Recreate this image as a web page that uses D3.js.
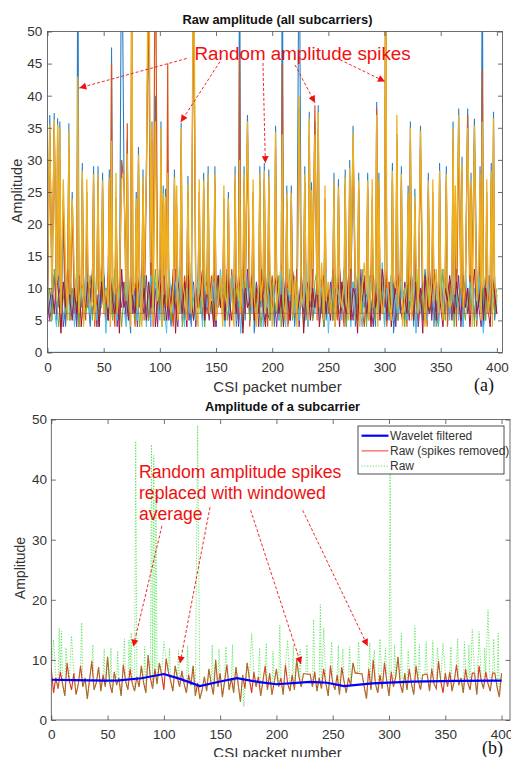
<!DOCTYPE html>
<html><head><meta charset="utf-8">
<script src="https://cdn.jsdelivr.net/npm/d3@7"></script>
<style>body{margin:0;background:#fff}svg{display:block}</style>
</head><body>
<script>
// ---------------- DATA ----------------
const xTickValues = [0,50,100,150,200,250,300,350,400];
const topYTickValues = [0,5,10,15,20,25,30,35,40,45,50];
const botYTickValues = [0,10,20,30,40,50];

// (a) band of subcarrier amplitudes, one value every 2 packets (0..400)
const bandBlue = [
8,11,6,9,5,12,7,10,4,9,6,11,8,5,10,7,12,6,9,4,
11,7,10,5,8,13,6,9,4,10,7,12,5,8,11,6,9,3,10,7,
12,8,5,9,6,11,4,10,7,13,6,8,5,11,9,4,10,7,12,6,
9,5,11,8,4,10,6,12,7,9,5,13,8,6,10,4,11,7,9,5,
12,6,10,8,4,11,7,9,5,12,6,10,3,8,11,7,13,5,9,6,
10,4,12,8,6,11,5,9,7,13,4,10,6,8,12,5,9,7,11,4,
8,12,6,10,5,9,7,13,4,11,8,6,10,5,12,7,9,4,11,6,
13,7,9,5,10,8,4,12,6,9,7,11,5,10,3,8,12,6,9,5,
11,7,10,4,12,6,8,5,13,9,6,10,4,11,7,9,5,12,8,6,
10,5,9,7,12,4,11,6,8,10,5,13,7,9,4,11,6,10,8,5,9];
const bandOrange = [
6,9,12,5,10,7,4,11,8,13,5,9,6,12,4,10,8,5,11,7,
9,4,12,6,10,8,5,13,7,9,4,11,6,10,5,12,8,6,9,4,
10,7,13,5,8,11,6,4,12,9,7,10,5,13,6,8,4,11,7,10,
5,12,8,6,11,4,9,7,13,5,10,6,8,12,4,9,7,11,5,8,
10,4,13,7,9,5,12,6,10,8,4,11,7,9,6,13,5,10,4,8,
12,7,9,5,11,6,10,4,8,12,7,5,11,9,6,13,4,10,7,9,
5,11,8,4,12,6,10,7,9,5,13,8,4,11,6,10,7,12,5,9,
7,4,11,8,13,6,9,5,10,7,12,4,9,6,11,8,5,13,7,10,
4,9,12,6,8,5,11,7,10,4,13,6,9,8,5,12,7,10,4,11,
6,12,4,10,8,5,9,13,6,11,7,4,10,8,12,5,9,6,11,7,8];
const bandPurple = [
10,5,8,12,6,9,11,4,7,10,13,6,8,4,11,9,5,12,7,10,
6,9,4,11,7,12,8,5,10,6,13,4,9,7,11,5,8,12,6,10,
4,11,8,6,12,5,9,7,10,4,13,8,6,11,5,9,12,7,4,10,
8,6,12,5,9,11,4,10,7,13,6,8,5,11,9,4,12,7,10,6,
9,5,11,7,12,4,8,10,6,13,5,9,7,11,4,10,8,12,6,5,
11,8,4,10,7,12,6,9,5,11,8,13,4,10,6,9,7,12,5,8,
10,6,12,4,9,8,11,5,10,7,13,6,9,4,12,8,5,11,7,10,
6,12,5,9,7,4,11,8,10,6,13,5,9,7,12,4,10,8,6,11,
9,5,12,7,10,4,8,11,6,9,13,5,10,7,4,12,8,6,11,9,
5,10,7,12,4,9,11,6,8,13,5,10,7,4,11,9,6,12,8,10,6];
const bandGreen = [
7,10,5,13,8,4,11,9,6,12,5,10,7,13,4,9,11,6,8,12,
5,10,7,4,12,9,6,11,8,5,13,7,10,4,9,12,6,8,11,5,
10,4,9,12,7,5,11,8,13,6,10,4,9,7,12,5,11,8,6,13,
4,10,7,9,12,5,8,11,6,10,4,13,7,9,5,12,8,10,6,11,
5,9,12,6,10,7,13,4,9,11,5,8,12,6,10,4,9,7,13,5,
11,8,6,12,4,10,7,9,13,5,8,11,6,10,4,12,7,9,5,11,
13,6,9,4,11,7,10,5,12,8,6,9,13,4,10,7,11,5,8,12,
6,10,4,12,7,9,5,13,8,11,4,10,6,12,7,9,5,11,8,4,
12,6,10,8,4,13,7,9,5,11,6,10,12,4,9,7,13,5,10,8,
11,4,9,6,12,8,5,10,7,13,4,11,9,6,10,5,12,7,9,6,10];
const bandLightBlue = [
9,6,11,7,4,10,14,5,8,11,6,9,4,12,7,10,5,13,8,6,
10,12,5,9,7,11,3,10,6,12,8,5,9,11,7,4,12,6,10,8,
5,13,7,10,4,9,12,6,11,8,5,10,7,3,13,9,6,11,8,12,
7,4,10,6,14,8,5,11,9,4,12,7,10,6,11,5,9,13,8,4,
10,6,12,8,5,11,3,9,13,7,10,6,12,5,8,11,4,10,7,12,
6,9,11,5,13,7,4,10,8,12,6,9,5,11,7,14,4,9,10,6,
12,5,10,7,13,3,9,11,6,10,8,5,12,7,9,4,11,6,13,8,
4,10,7,12,5,9,11,6,8,14,4,10,7,12,5,9,6,11,8,10,
5,11,7,13,3,10,6,9,12,5,8,11,7,10,4,13,6,9,11,5,
12,7,10,5,9,4,13,8,11,6,10,5,12,7,3,9,11,8,6,12,7];
const bandDarkRed = [
5,8,10,6,12,9,3,11,7,13,8,5,10,6,12,4,9,7,11,8,
13,6,9,4,11,7,10,5,12,8,6,10,3,13,7,9,5,11,8,6,
12,9,6,10,5,11,7,13,4,8,12,6,9,5,10,7,13,3,11,9,
6,11,4,12,8,5,10,7,9,13,5,11,6,8,4,10,12,7,9,5,
13,8,5,10,6,12,9,3,11,7,8,12,5,10,6,13,7,4,11,9,
7,10,12,6,9,4,11,8,5,13,10,6,8,12,3,9,11,5,10,7,
11,4,8,12,6,10,5,13,7,9,4,11,8,6,12,5,10,9,3,13,
8,11,6,9,4,12,7,10,5,13,9,6,11,4,8,10,12,7,5,9,
6,13,9,5,11,7,10,3,12,8,6,9,13,5,11,7,4,10,8,12,
9,6,11,8,5,12,7,10,4,9,13,6,8,11,5,10,7,4,12,9,6];
const bandYellow = [
11,7,9,4,8,12,6,10,14,5,9,7,12,8,6,11,4,10,13,7,
8,5,11,9,14,6,10,7,4,11,9,6,12,5,10,8,13,4,9,11,
7,10,4,12,9,6,14,5,10,8,11,4,12,7,9,6,10,13,5,8,
11,9,5,14,6,10,8,4,12,7,11,9,6,10,13,5,8,12,4,9,
7,12,9,4,11,8,6,14,10,5,12,7,9,4,11,8,12,6,10,13,
4,12,7,10,14,8,5,11,9,6,12,4,10,7,9,11,5,8,13,6,
9,7,14,5,8,11,6,10,4,12,9,7,11,8,5,13,6,10,12,4,
10,14,9,5,11,7,12,4,10,6,9,13,8,5,11,10,7,12,4,9,
11,8,5,10,14,6,9,12,4,10,7,11,8,13,6,9,5,12,10,7,
8,9,13,5,10,7,11,6,12,4,9,8,14,5,10,12,6,9,4,11,8];

// (a) random spikes: packet, blue tip, orange, yellow
const spikePackets =   [27,66,75,90,96,130,171,209,224,301,387,
  2,6,9,11,19,57,71,93,101,107,119,178,203,233,238,241,272,293,311,323,332,361,366,374,380,397,
  22,31,41,45,49,55,68,79,81,85,88,103,105,113,125,139,143,149,161,167,175,189,193,197,213,217,229,235,255,259,265,269,277,285,295,307,315,321,327,339,349,355,369,377,385,395,
  14,35,61,115,135,157,183,247,289,343,363,391];
const spikeBlue = [70,70,58,55,40,62,70,70,70,60,70,
  37,37.3,36.5,36,35.7,47.5,33,36,36,30,35.8,37,35.3,37.5,36,38.5,35.3,39,34,36,35.3,36,38,38,36.4,37.5,
  25,29.5,29,29,28,28.5,29,25,32,28.5,28.5,26,25.5,28.5,27.5,28,29,29,25,29,29,29,29.5,28.5,26,26,29,26.5,28,27,28.5,30,28,28,28,29.5,29,26,25.5,28,29.5,29,30.5,28,29,29.5,
  20,21,22,20,22,21,22,20,21,22,20,21];
const spikeOrange = [38,30,66,60,70,58,46,45,38,65,44,
  34,35,33,30,32,45,35.7,33,32,45,33,34,32,34,38.5,35,32,38,33,33,32,33,34,37,33,34,
  22.5,27,26.5,26.5,25.5,26,26.5,22.5,29.5,26,26,23.5,23,26,25,25.5,26.5,26.5,22.5,26.5,26.5,26.5,27,26,23.5,23.5,26.5,24,25.5,24.5,26,27.5,25.5,25.5,25.5,27,26.5,23.5,23,25.5,27,26.5,28,25.5,26.5,27,
  24,25,24,23,25,24,25,24,24,25,23,25];
const spikeYellow = [43,27,70,70,36,70,30,34,40,70,36,
  35.5,36.3,35.5,35,34.5,33,31,35.3,35,28,35,36,34.3,36.5,34,37.5,34.3,37,37,35,34.5,35,37,35,35.4,36.5,
  24,28.3,27.8,27.8,26.8,27.3,27.8,24,30.8,27.3,27.3,24.8,24.3,27.3,26.3,26.8,27.8,27.8,24,27.8,27.8,27.8,28.3,27.3,24.8,24.8,27.8,25.3,26.8,25.8,27.3,28.8,26.8,26.8,26.8,28.3,27.8,24.8,24.3,26.8,28.3,27.8,29.3,26.8,27.8,28.3,
  27,27,28,26,27,26,27,26,27,27,26,27];
const refLevels = [0, 6.1];

// (b) raw with spikes removed, one value every 2 packets (0..400)
const rawCleaned = [
8.5,4.5,7,5.2,8,6,4,9.5,6.5,5,7.8,4.2,6,9,5.5,7,3.5,6.8,9.8,5,
6.2,8.8,4.8,7.5,5.5,10.5,6,4.5,8,5.8,7,4,9.2,6.5,5,8.5,6,4.8,7.2,5.5,
9,6.2,4.5,10.8,7,5.2,8.5,6,9.5,7.5,5,10.2,8,6.5,4.8,9,7,5.5,8.2,6,
4.5,7.5,5.8,9,4,6.2,3.5,5,7.2,4.8,8.5,6,4.2,10,5.5,7.8,3.8,6.5,9.2,5,
7,4.5,8.8,6,3,7.5,5.2,9.5,6.8,4.5,8,5.5,7.2,4,6.5,9,5,7.8,4.2,6.2,
8.5,5.5,7,4.2,9.2,6,4.8,7.5,5,10,7.2,5.5,7.7,7.7,7.6,7.6,5.5,8,4.8,7,
5.2,8.5,6,4,9,6.2,5,7.5,4.2,8.8,6.5,4.5,7,5.8,9.5,7.8,7.8,7.7,7.7,5.5,
3.5,8.5,5,10,6,4.5,7.5,5.2,9.5,6.5,4,8,5.5,7.2,10.5,6,4.5,7.8,5,8.5,
6,4.2,9,6.5,5,7.5,7.6,7.6,4.8,8.5,6,5.2,9.8,6.5,4.5,7.8,5.5,8,4.8,6.5,
9.2,5.8,7,4.5,8.5,6.2,5,7.8,7.8,4.2,9,6.5,5.2,8,6,4.8,7.8,7.8,5.5,3.8,7.8];
// (b) raw spikes (packet, amplitude) that were removed
const rawSpikePackets = [2,7,9,13,18,27,37,47,53,59,65,69,71,75,83,89,91,93,100,105,113,121,130,143,149,155,161,171,178,185,191,197,203,210,215,221,227,233,239,242,249,255,259,265,273,283,287,292,297,301,305,311,317,323,327,333,339,343,348,355,361,367,371,374,380,385,388,393,397];
const rawSpikeValues  = [13.4,15.3,14.8,12,14,16.2,12.5,11.8,12,11.5,13.5,13.3,14.5,46.4,12.2,45.8,44,38,13,12,11.5,12.4,49,12.5,11.8,12.2,12.5,2.2,14.4,12,12.8,11.5,15.8,13.3,12.5,11.8,12.5,16.7,19.2,15.3,13,12.4,11.8,12.2,13,12.8,11.6,13.5,12,41,12.5,14.4,11.5,15.7,12.6,13,13.2,12,12.8,12.2,13.5,13,12.5,15.1,14.7,12,18.3,13.5,14.4];
// (b) wavelet filtered
const waveletPackets = [0,20,50,60,80,100,115,132,150,165,185,200,230,245,260,285,320,360,400];
const waveletValues  = [6.7,6.65,6.55,6.6,6.95,7.65,6.8,5.65,6.4,6.95,6.3,5.95,6.35,6.2,5.65,6.1,6.4,6.5,6.55];

// ---------------- DRAWING ----------------
const W = 511, H = 757;
const FONT = "'Liberation Sans', Arial, Helvetica, sans-serif";
const AXIS_COLOR = "#4a4a4a", TEXT_COLOR = "#333";
const svg = d3.select("body").append("svg").attr("width", W).attr("height", H);
const defs = svg.append("defs");
defs.append("marker").attr("id","ah").attr("viewBox","0 0 10 10").attr("refX",10).attr("refY",5)
  .attr("markerWidth",8).attr("markerHeight",7).attr("markerUnits","userSpaceOnUse").attr("orient","auto")
  .append("path").attr("d","M0,0L10,5L0,10z").attr("fill","#f01010");

const xA = d3.scaleLinear().domain([0,405]).range([47.5,502.5]);
const yA = d3.scaleLinear().domain([0,50]).range([352.5,31.5]);
const xB = d3.scaleLinear().domain([0,407.5]).range([51.3,510]);
const yB = d3.scaleLinear().domain([0,50]).range([720,419.5]);

function clip(id, x, y){
  defs.append("clipPath").attr("id",id).append("rect")
    .attr("x",x.range()[0]).attr("y",y.range()[1])
    .attr("width",x.range()[1]-x.range()[0]).attr("height",y.range()[0]-y.range()[1]);
}
clip("cA", xA, yA); clip("cB", xB, yB);

function axes(x, y, yTicks, xPad, yPad){
  const [x0,x1] = x.range(), [y0,y1] = y.range();
  const style = s => { s.select(".domain").remove(); s.attr("color",AXIS_COLOR).attr("font-family",FONT).attr("font-size",13.5);
    s.selectAll("line").attr("stroke-width",0.8); s.selectAll("text").attr("fill",TEXT_COLOR); };
  svg.append("g").attr("transform",`translate(0,${y0})`).call(d3.axisBottom(x).tickValues(xTickValues).tickSize(-4.5).tickPadding(xPad)).call(style);
  svg.append("g").attr("transform",`translate(0,${y1})`).call(d3.axisTop(x).tickValues(xTickValues).tickSize(-4.5).tickFormat("")).call(style);
  svg.append("g").attr("transform",`translate(${x0},0)`).call(d3.axisLeft(y).tickValues(yTicks).tickSize(-4.5).tickPadding(yPad)).call(style);
  svg.append("g").attr("transform",`translate(${x1},0)`).call(d3.axisRight(y).tickValues(yTicks).tickSize(-4.5).tickFormat("")).call(style);
  svg.append("rect").attr("x",x0).attr("y",y1).attr("width",x1-x0).attr("height",y0-y1)
    .attr("fill","none").attr("stroke",AXIS_COLOR).attr("stroke-width",0.8);
}

// ----- (a) -----
const gA = svg.append("g").attr("clip-path","url(#cA)");
const lineA = d3.line().x(d=>xA(d[0])).y(d=>yA(d[1]));
function bandPts(vals){ return vals.map((v,i)=>[i*2,v]); }
function withSpikes(pts, px, pv){
  const m = new Map(pts.map(p=>[p[0],p[1]]));
  px.forEach((p,i)=>m.set(p,pv[i]));
  return Array.from(m).sort((a,b)=>a[0]-b[0]);
}
const seriesA = [
  {vals: bandBlue, color:"#2a7fc4", spikes: spikeBlue, w:1.1},
  {vals: bandOrange, color:"#D95319", spikes: spikeOrange, w:1.2},
  {vals: bandPurple, color:"#7E2F8E", w:1},
  {vals: bandGreen, color:"#77AC30", w:1},
  {vals: bandLightBlue, color:"#4DBEEE", w:1},
  {vals: bandDarkRed, color:"#A2142F", w:1},
  {vals: bandYellow, color:"#EDB120", spikes: spikeYellow, w:1.3}
];
seriesA.forEach(s=>{
  let pts = bandPts(s.vals);
  if (s.spikes) pts = withSpikes(pts, spikePackets, s.spikes);
  gA.append("path").attr("d", lineA(pts)).attr("fill","none").attr("stroke",s.color).attr("stroke-width",s.w);
});
gA.selectAll("line.ref").data(refLevels).join("line").attr("class","ref")
  .attr("x1",xA(0)).attr("x2",xA(400)).attr("y1",d=>yA(d)).attr("y2",d=>yA(d))
  .attr("stroke",(d,i)=>i===0?"#4DBEEE":"#C0504D").attr("stroke-width",(d,i)=>i===0?1.6:0.8).attr("opacity",(d,i)=>i===0?1:0.8);
axes(xA, yA, topYTickValues, 10, 5.2);

// ----- (b) -----
const gB = svg.append("g").attr("clip-path","url(#cB)");
const lineB = d3.line().x(d=>xB(d[0])).y(d=>yB(d[1]));
const cleanedPts = bandPts(rawCleaned);
const rawPts = withSpikes(cleanedPts, rawSpikePackets, rawSpikeValues);
gB.append("path").attr("d", lineB(cleanedPts)).attr("fill","none").attr("stroke","#e0341c").attr("stroke-width",1.1);
gB.append("path").attr("d", lineB(rawPts)).attr("fill","none").attr("stroke","#33dd33").attr("stroke-width",1)
  .attr("stroke-dasharray","1.2,1.6").attr("opacity",0.75);
gB.append("path").attr("d", lineB(waveletPackets.map((p,i)=>[p,waveletValues[i]]))).attr("fill","none")
  .attr("stroke","#0000ff").attr("stroke-width",2.2);
axes(xB, yB, botYTickValues, 9.5, 4.3);

// ----- texts -----
function txt(x,y,s,size,opt={}){
  const t = svg.append("text").attr("x",x).attr("y",y).text(s).attr("font-family",opt.family||FONT)
    .attr("font-size",size).attr("fill",opt.fill||TEXT_COLOR).attr("text-anchor",opt.anchor||"middle");
  if(opt.bold) t.attr("font-weight","bold");
  if(opt.rot) t.attr("transform",`rotate(-90,${x},${y})`);
  return t;
}
txt(277.5,23.5,"Raw amplitude (all subcarriers)",12.8,{bold:true,fill:"#111"});
txt(21.5,191,"Amplitude",14.5,{rot:true});
txt(277.5,392,"CSI packet number",15);
txt(474,390.5,"(a)",18,{anchor:"start",family:"'Liberation Serif','Times New Roman',serif",fill:"#111"});

txt(282.5,411,"Amplitude of a subcarrier",12.8,{bold:true,fill:"#111"});
txt(25,568,"Amplitude",14,{rot:true});
txt(277.5,757.5,"CSI packet number",15);
txt(482,754,"(b)",18,{anchor:"start",family:"'Liberation Serif','Times New Roman',serif",fill:"#111"});

// legend
const leg = svg.append("g");
leg.append("rect").attr("x",358).attr("y",426).attr("width",146).attr("height",48).attr("fill","#fff").attr("stroke","#222").attr("stroke-width",0.8);
const legItems = [
  {label:"Wavelet filtered", color:"#0000ff", w:2.2, dash:null},
  {label:"Raw (spikes removed)", color:"#ff3333", w:1, dash:null},
  {label:"Raw", color:"#66dd66", w:1, dash:"1.2,1.6"}
];
legItems.forEach((d,i)=>{
  const y = 435.7 + i*15.2;
  const l = leg.append("line").attr("x1",361.5).attr("x2",388.5).attr("y1",y).attr("y2",y).attr("stroke",d.color).attr("stroke-width",d.w);
  if(d.dash) l.attr("stroke-dasharray",d.dash);
  txt(390,y+4.2,d.label,12,{anchor:"start"});
});

// annotations (data coordinates)
const annA = {text:[130.9,45.6], arrows:[[123.9,45.8,28.3,41.2],[153.5,45.3,118.6,35.9],[191.8,45.1,193.9,29.5],[220.3,44.8,238.1,38.9],[260.4,45.6,300.4,42.2]]};
const annB = {lines:["Random amplitude spikes","replaced with windowed","average"], x:77.9, y:[40.2,36.7,33.2],
  arrows:[[98.3,32.3,72.8,12.2],[141,35.4,114.3,9.4],[177.1,34.9,221.8,9.3],[223.3,34.9,281.1,12.3]]};
function arrows(list, x, y){
  list.forEach(a=>svg.append("line").attr("x1",x(a[0])).attr("y1",y(a[1])).attr("x2",x(a[2])).attr("y2",y(a[3]))
    .attr("stroke","#f01010").attr("stroke-width",0.9).attr("stroke-dasharray","3,2").attr("marker-end","url(#ah)"));
}
arrows(annA.arrows, xA, yA);
arrows(annB.arrows, xB, yB);
txt(xA(annA.text[0]), yA(annA.text[1]), "Random amplitude spikes", 18.8, {anchor:"start", fill:"#f01010"});
annB.lines.forEach((s,i)=>txt(xB(annB.x), yB(annB.y[i]), s, 17.6, {anchor:"start", fill:"#f01010"}));
</script>
</body></html>
